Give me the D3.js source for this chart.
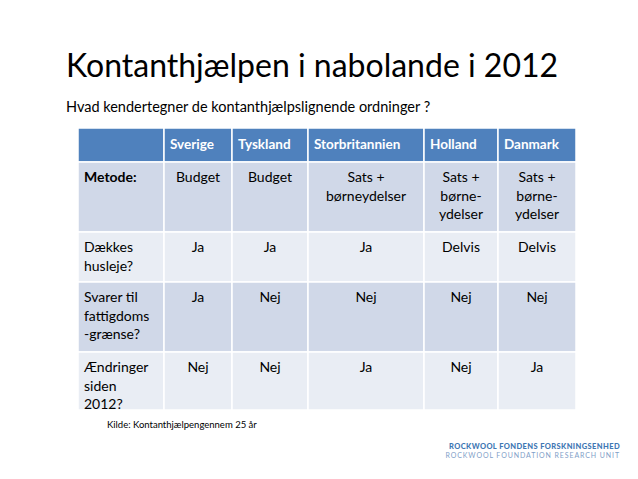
<!DOCTYPE html>
<html><head><meta charset="utf-8">
<script src="https://cdn.jsdelivr.net/npm/d3@7"></script>
<style>body{margin:0;background:#fff}</style></head>
<body><svg id="c" width="638" height="479"></svg>
<script>
const title = "Kontanthjælpen i nabolande i 2012";
const subtitle = "Hvad kendertegner de kontanthjælpslignende ordninger ?";
const countries = ["Sverige","Tyskland","Storbritannien","Holland","Danmark"];
const rowLabels = [["Metode:"],["Dækkes","husleje?"],["Svarer til","fattigdoms","-grænse?"],["Ændringer","siden","2012?"]];
const metode = [["Budget"],["Budget"],["Sats +","børneydelser"],["Sats +","børne-","ydelser"],["Sats +","børne-","ydelser"]];
const husleje = [["Ja"],["Ja"],["Ja"],["Delvis"],["Delvis"]];
const fattigdom = [["Ja"],["Nej"],["Nej"],["Nej"],["Nej"]];
const aendringer = [["Nej"],["Nej"],["Ja"],["Nej"],["Ja"]];
const rows = [metode, husleje, fattigdom, aendringer];
const source = "Kilde: Kontanthjælpengennem 25 år";

const svg = d3.select("#c");
const F = "Lato, 'Open Sans', sans-serif";
svg.append("text").attr("x",66).attr("y",77).attr("font-family",F).attr("font-size",32).attr("fill","#000").text(title);
svg.append("text").attr("x",66).attr("y",112).attr("font-family",F).attr("font-size",14.5).attr("fill","#000").text(subtitle);

const colEdges = [78,164,232,308,424,498,576];
const rowEdges = [128,162,232,282,352,410];
const rowFill = ["#D0D8E8","#E9EDF4","#D0D8E8","#E9EDF4"];
const lh = 18.5;
const g = svg.append("g");
for (let c=0;c<6;c++){
  g.append("rect").attr("x",colEdges[c]).attr("y",rowEdges[0]).attr("width",colEdges[c+1]-colEdges[c]).attr("height",rowEdges[1]-rowEdges[0]).attr("fill","#4F81BD").attr("stroke","#fff").attr("stroke-width",1.5);
  if (c>0) g.append("text").attr("x",colEdges[c]+6).attr("y",rowEdges[0]+21).attr("font-family",F).attr("font-size",13.5).attr("font-weight","bold").attr("fill","#fff").text(countries[c-1]);
}
rows.forEach((row,r)=>{
  const y0=rowEdges[r+1], y1=rowEdges[r+2];
  for (let c=0;c<6;c++){
    g.append("rect").attr("x",colEdges[c]).attr("y",y0).attr("width",colEdges[c+1]-colEdges[c]).attr("height",y1-y0).attr("fill",rowFill[r]).attr("stroke","#fff").attr("stroke-width",1.5);
    const lines = c===0 ? rowLabels[r] : row[c-1];
    const t = g.append("text").attr("font-family",F).attr("font-size",14).attr("fill","#000")
      .attr("font-weight", (c===0 && r===0) ? "bold":"normal")
      .attr("text-anchor", c===0?"start":"middle");
    lines.forEach((l,i)=>t.append("tspan").attr("x", c===0?colEdges[c]+6:(colEdges[c]+colEdges[c+1])/2).attr("y",y0+20+i*lh).text(l));
  }
});
svg.append("text").attr("x",107).attr("y",428).attr("font-family",F).attr("font-size",9.5).text(source);
svg.append("text").attr("x",620).attr("y",449).attr("text-anchor","end").attr("font-family",F).attr("font-size",7.5).attr("font-weight","900").attr("fill","#3F78B4").attr("letter-spacing",0.4).text("ROCKWOOL FONDENS FORSKNINGSENHED");
svg.append("text").attr("x",620).attr("y",458).attr("text-anchor","end").attr("font-family",F).attr("font-size",7).attr("fill","#7FA0C8").attr("letter-spacing",0.9).text("ROCKWOOL FOUNDATION RESEARCH UNIT");
</script></body></html>
